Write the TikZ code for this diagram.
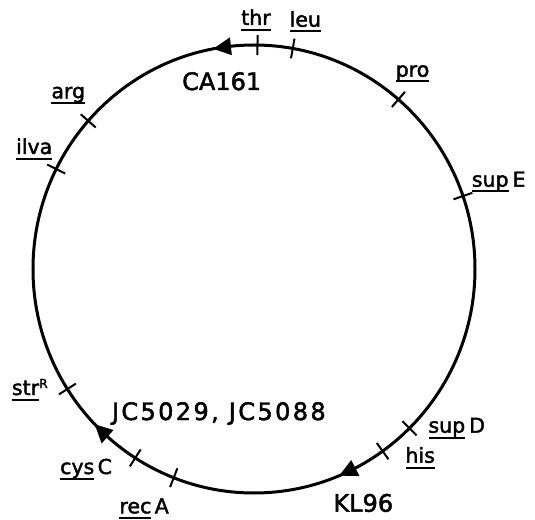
\documentclass[tikz,border=0pt]{standalone}
\usepackage{fontspec}
\setmainfont{DejaVu Sans}
\newfontfamily\plainfont[FakeBold=2]{DejaVu Sans}
\newfontfamily\widefont[LetterSpace=10,FakeBold=2]{DejaVu Sans}
% gene symbol with an underline set just below the baseline
\newcommand\gul[1]{\setbox0\hbox{#1}\rlap{\rule[-5.8pt]{\wd0}{2pt}}#1}
\begin{document}
\begin{tikzpicture}[x=1pt,y=1pt,
  ring/.style={line width=3pt},
  marker/.style={line width=2pt},
  gene/.style={inner sep=0pt,font=\plainfont\fontsize{20.5}{21}\selectfont},
  strain/.style={inner sep=0pt,font=\plainfont\fontsize{24}{24}\selectfont}]
\useasboundingbox (-254,-250) rectangle (281,269);
\coordinate (O) at (0,0);
% chromosome
\draw[ring] (O) ellipse [x radius=221, y radius=224];
% gene loci
\foreach \a/\n in {89.1/thr,79.9/leu,49.2/pro,19/supE,-45.3/supD,-54.4/his,
                   -111.3/recA,-122.5/cysC,-147.6/strR,153.5/ilva,138.6/arg}
  \draw[marker] (\a:211 and 214) coordinate (m-\n) -- (\a:231 and 234);
% origins and directions of transfer
\fill (100.6:221 and 224) coordinate (tipCA) -- (96.0:230 and 233) -- (96.0:212 and 215) -- cycle;
\fill (-67.3:221 and 224) coordinate (tipKL) -- (-62.7:230 and 233) -- (-62.7:212 and 215) -- cycle;
\fill (-136.1:221 and 224) coordinate (tipJC) -- (-131.5:230 and 233) -- (-131.5:212 and 215) -- cycle;
% labels
\node[gene,anchor=base] (thr) at (2,244) {\gul{thr}};
\node[gene,anchor=base] (leu) at (51.3,242.3) {\gul{leu}};
\node[gene,anchor=base] (pro) at (158.5,192.3) {\gul{pro}};
\node[gene,anchor=base west] (supE) at (217.7,82.3) {\gul{sup}\hspace{4pt}E};
\node[gene,anchor=base west] (supD) at (174.3,-163.7) {\gul{sup}\hspace{4pt}D};
\node[gene,anchor=base] (his) at (166.2,-193.7) {\gul{his}};
\node[gene,anchor=base west] (recA) at (-134.7,-244.3) {\gul{rec}\,A};
\node[gene,anchor=base west] (cysC) at (-194,-205) {\gul{cys}\,C};
\node[gene,anchor=base west] (strR) at (-242.3,-126) {\gul{str}\raisebox{7pt}{\fontsize{12.5}{13}\selectfont R}};
\node[gene,anchor=base] (ilva) at (-219.8,115) {\gul{ilva}};
\node[gene,anchor=base] (arg) at (-185.7,170.7) {\gul{arg}};
\node[strain,anchor=base] (CA) at (-32.3,179) {CA161};
\node[strain,anchor=base] (KL) at (109.3,-242.7) {KL96};
\node[strain,anchor=base west] (JC) at (-142.3,-151) {\widefont JC5029, JC5088};
\end{tikzpicture}
\end{document}
